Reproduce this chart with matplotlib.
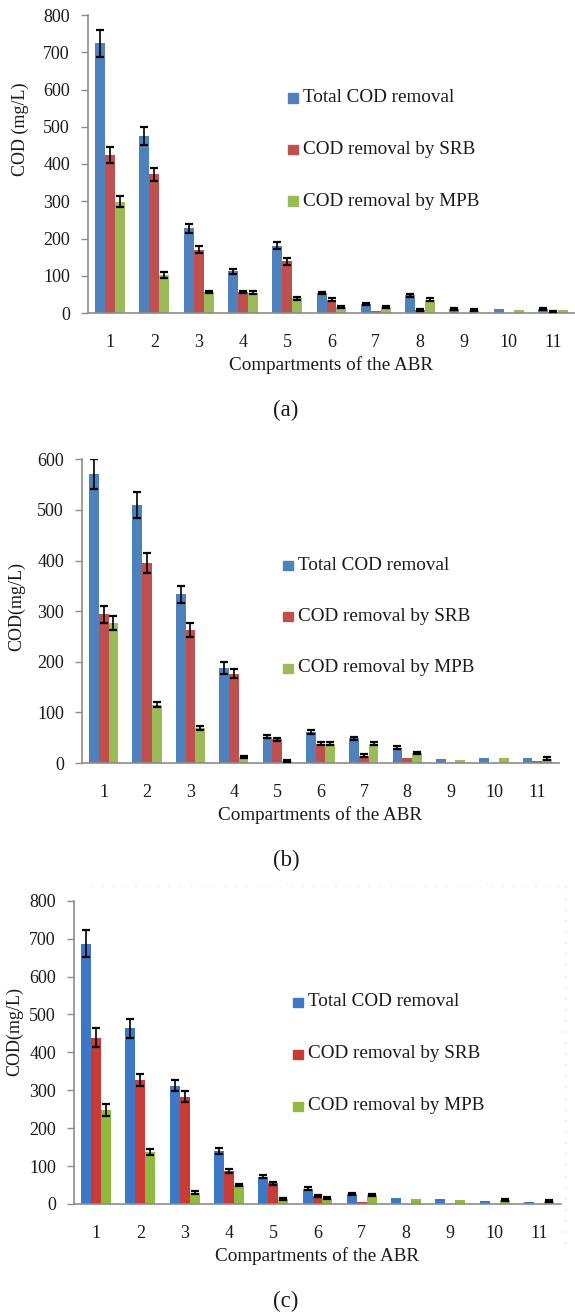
import numpy as np
import matplotlib
matplotlib.use("Agg")
import matplotlib.pyplot as plt
from matplotlib.patches import Rectangle

plt.rcParams["font.family"] = ["Liberation Serif", "DejaVu Serif"]

# Compartment numbers
compartments = [str(i) for i in range(1, 12)]
series_names = ["Total COD removal", "COD removal by SRB", "COD removal by MPB"]

# Panel (a) values, mg/L
total_a = [724, 475, 228, 112, 181, 54, 24, 47, 11, 11, 11]
srb_a = [424, 372, 170, 57, 139, 36, 5, 8, 0, 0, 4]
mpb_a = [299, 101, 57, 55, 39, 16, 17, 36, 8, 8, 8]
total_a_err = [36, 24, 12, 6, 9, 3, 3, 3, 3, 0, 3]
srb_a_err = [22, 18, 9, 3, 9, 3, 0, 3, 0, 0, 2]
mpb_a_err = [14, 8, 3, 3, 3, 3, 3, 3, 3, 0, 0]

# Panel (b) values, mg/L
total_b = [571, 510, 333, 187, 52, 61, 49, 30, 7, 10, 10]
srb_b = [294, 395, 262, 176, 47, 38, 14, 10, 0, 0, 3]
mpb_b = [277, 115, 70, 11, 3, 38, 38, 20, 6, 10, 8]
total_b_err = [29, 26, 17, 12, 3, 4, 3, 3, 0, 0, 0]
srb_b_err = [17, 19, 14, 9, 3, 3, 3, 0, 0, 0, 0]
mpb_b_err = [14, 5, 4, 2, 2, 3, 3, 2, 0, 0, 3]

# Panel (c) values, mg/L
total_c = [687, 463, 312, 141, 72, 40, 27, 16, 14, 9, 6]
srb_c = [439, 327, 283, 88, 55, 22, 4, 0, 0, 0, 0]
mpb_c = [248, 137, 30, 50, 14, 16, 23, 14, 11, 10, 7]
total_c_err = [36, 24, 15, 8, 4, 4, 3, 0, 0, 0, 0]
srb_c_err = [25, 17, 15, 5, 4, 3, 0, 0, 0, 0, 0]
mpb_c_err = [15, 8, 3, 3, 3, 3, 3, 0, 0, 3, 3]

W, H = 575, 1314
fig = plt.figure(figsize=(W / 100, H / 100), dpi=100)

colors_ab = ["#4F81BD", "#C0504D", "#9BBB59"]
colors_c = ["#3D78C6", "#C83B36", "#90BA3E"]
axis_grey = "#8C8C8C"
FS = 13
FS_TEXT = 13.8


def px_ax(left, top, right, bottom):
    # pixel box -> figure fraction axes
    return fig.add_axes([left / W, 1 - bottom / H, (right - left) / W, (bottom - top) / H])


def draw_panel(box, ymax, series, errors, colors, ylabel, ylab_pos, leg_pos, tag):
    ax = px_ax(*box)
    x = np.arange(len(compartments))
    width = 0.225
    for i, (vals, errs, col) in enumerate(zip(series, errors, colors)):
        xs = x + (i - 1) * width
        vals = np.array(vals, dtype=float)
        errs = np.array(errs, dtype=float)
        ax.bar(xs, vals, width=width, color=col, zorder=2)
        keep = errs > 0
        ax.errorbar(xs[keep], vals[keep], yerr=errs[keep], fmt="none",
                    ecolor="black", elinewidth=1.2, capsize=3.2, capthick=1.6, zorder=3)
    ax.set_xlim(-0.5, len(compartments) - 0.5)
    ax.set_ylim(0, ymax)
    ax.set_yticks(np.arange(0, ymax + 1, 100))
    ax.set_xticks(x)
    ax.set_xticklabels(compartments)
    for s in ["top", "right"]:
        ax.spines[s].set_visible(False)
    for s in ["left", "bottom"]:
        ax.spines[s].set_color(axis_grey)
        ax.spines[s].set_linewidth(1.2)
    ax.tick_params(axis="y", direction="out", length=5, width=1, color=axis_grey,
                   pad=8, labelsize=FS, labelcolor="#1a1a1a")
    ax.tick_params(axis="x", length=0, pad=15, labelsize=FS, labelcolor="#1a1a1a")

    left, top, right, bottom = box
    xc = (left + right) / 2
    fig.text(xc / W, 1 - (bottom + 52) / H, "Compartments of the ABR",
             ha="center", va="center", fontsize=FS_TEXT, color="#1a1a1a")
    fig.text(ylab_pos[0] / W, 1 - ylab_pos[1] / H, ylabel, rotation=90,
             ha="center", va="center", fontsize=FS, color="#1a1a1a")
    fig.text(286 / W, 1 - (bottom + 97) / H, tag, ha="center", va="center",
             fontsize=16.5, color="#1a1a1a")

    # legend: square marker + text, one row per series
    lx, ly0, dy = leg_pos
    for i, (name, col) in enumerate(zip(series_names, colors)):
        yy = ly0 + i * dy
        fig.patches.append(Rectangle(((lx) / W, 1 - (yy + 4.5) / H), 10 / W, 9 / H,
                                     transform=fig.transFigure, color=col, figure=fig))
        fig.text((lx + 15) / W, 1 - yy / H, name, ha="left", va="center",
                 fontsize=FS_TEXT, color="#1a1a1a")
    return ax


draw_panel((88, 15, 575, 313), 800,
           [total_a, srb_a, mpb_a], [total_a_err, srb_a_err, mpb_a_err],
           colors_ab, "COD (mg/L)", (20, 129), (288, 98, 51.5), "(a)")

draw_panel((82, 459.3, 559, 763), 600,
           [total_b, srb_b, mpb_b], [total_b_err, srb_b_err, mpb_b_err],
           colors_ab, "COD(mg/L)", (17, 607), (283, 565, 51.5), "(b)")

draw_panel((74, 900.7, 561, 1204), 800,
           [total_c, srb_c, mpb_c], [total_c_err, srb_c_err, mpb_c_err],
           colors_c, "COD(mg/L)", (15, 1031), (293, 1002, 52), "(c)")

# faint chart-area border seen around panel (c)
fig.add_artist(plt.Line2D([90 / W, 565 / W], [1 - 886 / H, 1 - 886 / H],
                          color="#e8e8ee", lw=0.8, ls=(0, (2, 8))))
fig.add_artist(plt.Line2D([565 / W, 565 / W], [1 - 886 / H, 1 - 1245 / H],
                          color="#e0e0e8", lw=0.8, ls=(0, (2, 8))))

fig.savefig("out.png", dpi=100)
